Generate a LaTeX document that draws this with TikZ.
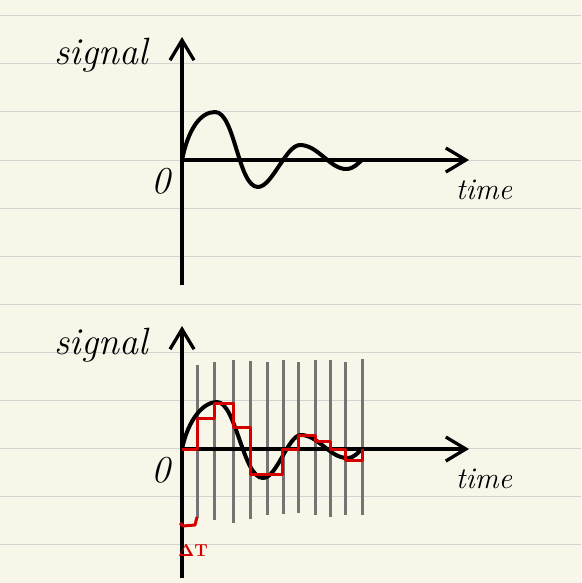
\documentclass[tikz,border=0pt]{standalone}
\usepackage{xcolor}
\usepackage{tikz}
\usepackage{amsmath}
\usetikzlibrary{arrows.meta}
\definecolor{paper}{HTML}{F8F6E9}
\definecolor{ruling}{HTML}{D3D3D0}
\definecolor{sampler}{HTML}{747474}
\definecolor{holdred}{HTML}{D40000}

\begin{document}
\begin{tikzpicture}[
    x=1pt, y=-1pt,
    rule/.style={draw=ruling, line width=1pt},
    axis/.style={-{Straight Barb[length=20pt, width=24pt]}, line width=3.3pt, color=black},
    curve/.style={line width=4pt, color=black, line join=round, line cap=round},
    sample/.style={line width=3pt, color=sampler},
    hold/.style={line width=3pt, color=holdred, line join=round},
    lbl/.style={font=\fontsize{38}{40}\selectfont\itshape, inner sep=0pt, anchor=base}
  ]
    % paper
    \fill[paper] (0,0) rectangle (581,583);
    \useasboundingbox (0,0) rectangle (581,583);
    \foreach \y in {16,64,...,544}
      \draw[rule] (0,\y) -- (581,\y);

    % top plot
    \coordinate (o1) at (182,160);
    \coordinate (ybot1) at (182,285);
    \coordinate (ytop1) at (182,37);
    \coordinate (xend1) at (469,160);
    \draw[axis] (ybot1) -- (ytop1);
    \draw[axis] (o1) -- (xend1);
    \node[lbl] (sig1) at (101,65) {signal};
    \node[lbl] (zero1) at (161,193) {0};
    \node[lbl, font=\fontsize{30}{32}\selectfont\itshape] (time1) at (484,199) {time};
    \draw[curve] (o1) .. controls (188,130) and (200,112) .. (215,112)
      .. controls (235,112) and (238,187) .. (258,187)
      .. controls (272,187) and (286,145) .. (300,145)
      .. controls (318,145) and (330,169) .. (346,169)
      .. controls (354,169) and (358,163) .. (362,160);

    % bottom plot
    \coordinate (o2) at (182,449);
    \coordinate (ybot2) at (182,578);
    \coordinate (ytop2) at (182,326);
    \coordinate (xend2) at (469,449);
    \foreach \x/\t/\b in {197/365/518, 214/362/520, 233/360/523, 250/361/519,
                          267/362/515, 283/360/514, 298/362/513, 315/360/515,
                          330/360/517, 345/362/515, 362/359/515}
      \draw[sample] (\x,\t) -- (\x,\b);
    \draw[axis] (ybot2) -- (ytop2);
    \draw[axis] (o2) -- (xend2);
    \node[lbl] (sig2) at (101,354) {signal};
    \node[lbl] (zero2) at (161,482) {0};
    \node[lbl, font=\fontsize{30}{32}\selectfont\itshape] (time2) at (484,488) {time};
    \draw[curve] (o2) .. controls (188,420) and (203,402) .. (217,402)
      .. controls (236,402) and (243,478) .. (263,478)
      .. controls (277,478) and (288,435) .. (301,435)
      .. controls (318,435) and (330,458) .. (347,458)
      .. controls (355,458) and (358,452) .. (362,449);
    \draw[hold] (o2) -| (197,418) -| (214,403) -| (233,427) -| (250,474)
      -| (282,449) -| (298,435) -| (315,441) -| (330,449) -| (345,460)
      -| (362,449);

    % sampling interval
    \draw[hold] (180,523) -- (183,526) -- (195,525) -- (197,517);
    \node[text=holdred, font=\fontsize{16}{18}\selectfont, inner sep=0pt] (dt) at (193,551) {$\boldsymbol{\Delta}\mathbf{T}$};
  \end{tikzpicture}
\end{document}
